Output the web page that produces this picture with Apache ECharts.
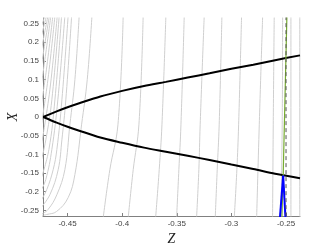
<!DOCTYPE html>
<html>
<head>
<meta charset="utf-8">
<script src="https://cdn.jsdelivr.net/npm/echarts@6/dist/echarts.min.js"></script>
<style>
  html, body { margin: 0; padding: 0; background: #fff; }
  #main { width: 332px; height: 249px; }
</style>
</head>
<body>
<div id="main"></div>
<script>
// tick labels
var zTicks = [-0.45, -0.4, -0.35, -0.3, -0.25];
var xTicks = [-0.25, -0.2, -0.15, -0.1, -0.05, 0, 0.05, 0.1, 0.15, 0.2, 0.25];

// black boundary curves (Z, upper X, lower X)
var curveZ = [-0.4723, -0.46, -0.45, -0.44, -0.42, -0.40, -0.38, -0.36, -0.34, -0.32, -0.30, -0.28, -0.26, -0.2372];
var upperX = [0, 0.015, 0.026, 0.036, 0.055, 0.070, 0.083, 0.094, 0.1056, 0.117, 0.129, 0.140, 0.152, 0.165];
var lowerX = [0, -0.015, -0.026, -0.036, -0.055, -0.069, -0.082, -0.093, -0.104, -0.115, -0.127, -0.139, -0.152, -0.164];

// green and blue branches, dashed marker
var greenLine = [[-0.2492, 0.27], [-0.2526, -0.157], [-0.2538, -0.27]];
var blueLeft = [[-0.2526, -0.157], [-0.2556, -0.27]];
var blueRight = [[-0.2526, -0.157], [-0.2505, -0.27]];
var dashedZ = -0.25;

// gray contour lines, each a list of [Z, X]
var contours = [
  [[-0.2374, 0.27], [-0.2374, -0.27]],
  [[-0.2455, 0.27], [-0.2455, -0.27]],
  [[-0.2531, 0.27], [-0.2535, -0.021], [-0.2547, -0.27]],
  [[-0.2608, 0.27], [-0.2617, -0.021], [-0.2623, -0.27]],
  [[-0.2714, 0.27], [-0.2745, -0.021], [-0.2769, -0.27]],
  [[-0.2907, 0.27], [-0.2934, -0.021], [-0.2950, -0.141], [-0.2974, -0.27]],
  [[-0.3087, 0.27], [-0.3112, -0.021], [-0.3130, -0.141], [-0.3148, -0.27]],
  [[-0.3249, 0.27], [-0.3286, -0.021], [-0.3298, -0.141], [-0.3319, -0.27]],
  [[-0.3432, 0.27], [-0.3462, -0.021], [-0.3481, -0.141], [-0.3502, -0.27]],
  [[-0.3600, 0.27], [-0.3636, -0.021], [-0.3661, -0.141], [-0.3694, -0.27]],
  [[-0.3808, 0.27], [-0.3847, -0.021], [-0.3899, -0.141], [-0.3945, -0.27]],
  [[-0.3991, 0.27], [-0.4039, -0.021], [-0.4113, -0.141], [-0.4174, -0.27]],
  [[-0.4277, 0.27], [-0.4320, 0.100], [-0.4372, -0.021], [-0.4433, -0.154], [-0.4495, -0.216], [-0.4601, -0.253], [-0.4692, -0.261], [-0.4753, -0.264]],
  [[-0.4394, 0.27], [-0.4433, 0.100], [-0.4479, -0.021], [-0.4525, -0.141], [-0.4598, -0.208], [-0.4680, -0.248], [-0.4744, -0.261]],
  [[-0.4463, 0.27], [-0.4516, 0.046], [-0.4552, -0.061], [-0.4586, -0.141], [-0.4662, -0.208], [-0.4744, -0.243]],
  [[-0.4495, 0.27], [-0.4552, 0.046], [-0.4598, -0.087], [-0.4632, -0.141], [-0.4690, -0.194], [-0.4744, -0.224]],
  [[-0.4525, 0.27], [-0.4589, 0.046], [-0.4644, -0.087], [-0.4699, -0.167], [-0.4744, -0.197]],
  [[-0.4555, 0.27], [-0.4616, 0.046], [-0.4671, -0.087], [-0.4744, -0.167]],
  [[-0.4577, 0.27], [-0.4644, 0.046], [-0.4699, -0.061], [-0.4744, -0.120]],
  [[-0.4595, 0.27], [-0.4662, 0.073], [-0.4744, -0.082]],
  [[-0.4616, 0.27], [-0.4680, 0.100], [-0.4744, -0.029]],
  [[-0.4635, 0.27], [-0.4694, 0.126], [-0.4744, 0.025]],
  [[-0.4653, 0.27], [-0.4708, 0.153], [-0.4744, 0.078]],
  [[-0.4667, 0.27], [-0.4744, 0.132]],
  [[-0.4680, 0.27], [-0.4744, 0.175]],
  [[-0.4694, 0.27], [-0.4744, 0.212]],
  [[-0.4708, 0.27], [-0.4744, 0.240]]
];

var chart = echarts.init(document.getElementById('main'), null, { renderer: 'canvas' });

function zip(xs, ys) {
  var out = [];
  for (var i = 0; i < xs.length; i++) out.push([xs[i], ys[i]]);
  return out;
}

var series = [];
contours.forEach(function (c) {
  series.push({
    type: 'line', data: c, smooth: 0.4, symbol: 'none', silent: true,
    lineStyle: { color: '#cfcfcf', width: 1 }
  });
});
series.push({ type: 'line', data: zip(curveZ, upperX), smooth: 0.3, symbol: 'none', lineStyle: { color: '#000', width: 2 } });
series.push({ type: 'line', data: zip(curveZ, lowerX), smooth: 0.3, symbol: 'none', lineStyle: { color: '#000', width: 2 } });
series.push({ type: 'line', data: greenLine, symbol: 'none', lineStyle: { color: '#77ac30', width: 1.2 } });
series.push({ type: 'line', data: blueLeft, symbol: 'none', lineStyle: { color: '#0000ff', width: 2 } });
series.push({ type: 'line', data: blueRight, symbol: 'none', lineStyle: { color: '#0000ff', width: 2 } });
series.push({
  type: 'line', data: [[dashedZ, 0.27], [dashedZ, -0.27]], symbol: 'none',
  lineStyle: { color: '#555', width: 1, type: [4, 3] }
});

var option = {
  animation: false,
  grid: { left: 43, right: 32, top: 18, bottom: 33, outerBoundsMode: 'none', containLabel: false },
  xAxis: {
    type: 'value', min: -0.4725, max: -0.2372,
    name: 'Z', nameLocation: 'middle', nameGap: 16, nameMoveOverlap: false,
    nameTextStyle: { fontFamily: 'Liberation Serif', fontStyle: 'italic', fontSize: 14, color: '#222' },
    axisLine: { show: true, onZero: false, lineStyle: { color: '#808080', width: 1 } },
    axisTick: { show: true, inside: true, length: 3, customValues: zTicks, lineStyle: { color: '#808080' } },
    axisLabel: { customValues: zTicks, margin: 4, fontSize: 8, fontFamily: 'Liberation Sans', color: '#444' },
    splitLine: { show: false }
  },
  yAxis: {
    type: 'value', min: -0.265, max: 0.265,
    name: 'X', nameLocation: 'middle', nameGap: 23, nameRotate: 90, nameMoveOverlap: false,
    nameTextStyle: { fontFamily: 'Liberation Serif', fontStyle: 'italic', fontSize: 14, color: '#222' },
    axisLine: { show: true, onZero: false, lineStyle: { color: '#808080', width: 1 } },
    axisTick: { show: true, inside: true, length: 3, customValues: xTicks, lineStyle: { color: '#808080' } },
    axisLabel: { customValues: xTicks, margin: 4, fontSize: 8, fontFamily: 'Liberation Sans', color: '#444' },
    splitLine: { show: false }
  },
  series: series
};
chart.setOption(option);
</script>
</body>
</html>
